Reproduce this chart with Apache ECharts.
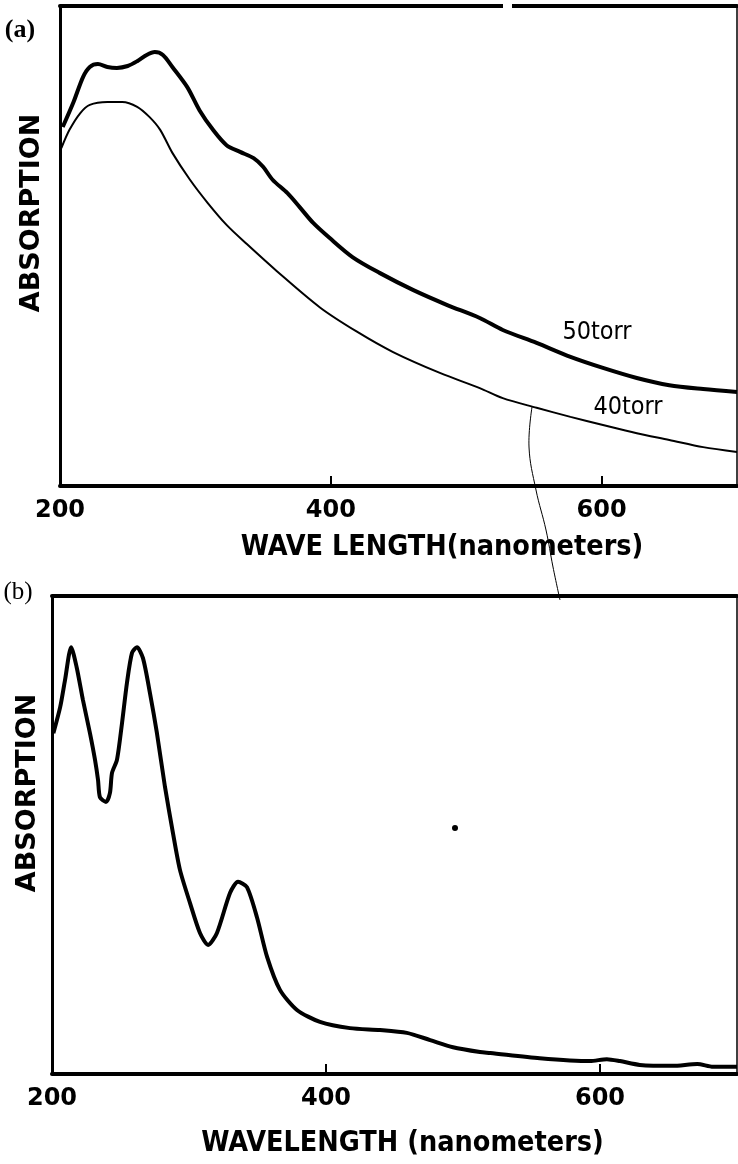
<!DOCTYPE html>
<html>
<head>
<meta charset="utf-8">
<script src="https://cdn.jsdelivr.net/npm/echarts@6/dist/echarts.min.js"></script>
<style>
  html, body { margin: 0; padding: 0; background: #fff; }
  #chart { width: 738px; height: 1164px; }
</style>
</head>
<body>
<div id="chart"></div>
<script>
// panel (a): two pressures, wavelength in nm / relative absorption
const wl50  = [202, 210, 217, 222, 228, 235, 242, 250, 257, 264, 270, 276, 283, 294, 303, 313, 323, 333, 343, 350, 357, 368, 377, 387, 399, 416, 436, 461, 486, 510, 527, 552, 577, 601, 626, 650, 675, 700];
const abs50 = [74.8, 80, 85.2, 87.3, 87.9, 87.3, 87.1, 87.5, 88.5, 89.8, 90.4, 89.8, 87.3, 83.1, 78.3, 74.2, 71.0, 69.6, 68.3, 66.5, 63.8, 61.0, 58.1, 54.8, 51.7, 47.7, 44.4, 40.8, 37.7, 35.0, 32.5, 29.8, 26.9, 24.6, 22.5, 21.0, 20.2, 19.6];
const wl40  = [201, 207, 215, 222, 235, 246, 257, 266, 274, 283, 296, 309, 323, 338, 360, 392, 419, 446, 481, 510, 527, 552, 577, 601, 626, 650, 675, 700];
const abs40 = [70.4, 74.2, 77.7, 79.4, 80, 80, 79, 76.9, 74.2, 69.4, 63.8, 59, 54.4, 50.4, 44.8, 37.2, 32.2, 27.9, 23.5, 20.4, 18.3, 16.3, 14.4, 12.7, 11.0, 9.6, 8.1, 7.1];

// panel (b)
const wlB  = [201, 206, 209.5, 214, 218, 222.6, 227.7, 231.4, 233.6, 235, 239.4, 242.3, 243.8, 247.4, 251.1, 254.7, 258.4, 262, 266.4, 271.5, 276.6, 282.5, 288.3, 293.4, 300.7, 308, 314, 320.4, 330, 335.8, 342.3, 349.6, 357, 366.4, 378.8, 395.6, 417.5, 439.4, 459, 476, 492.7, 512.4, 520, 556, 592.7, 605, 614.6, 629, 653, 671, 682.5, 700];
const absB = [71.3, 76.8, 82.4, 89.3, 85.1, 78.2, 71.3, 65.7, 61.5, 57.9, 56.9, 58.8, 63, 65.7, 73.4, 81.8, 88.1, 89.3, 87, 79.7, 71.3, 60, 50.4, 42.7, 35.8, 29.5, 27, 29.5, 37.9, 40.2, 39.1, 32.8, 24.5, 17.6, 13.4, 10.9, 9.6, 9.2, 8.6, 7.1, 5.6, 4.6, 4.4, 3.3, 2.7, 3.1, 2.7, 1.9, 1.7, 2.1, 1.5, 1.5];

const xTicks = [200, 400, 600];

const pair = (xs, ys) => xs.map((x, i) => [x, ys[i]]);

const labelFont = { color: '#000', fontSize: 24, fontWeight: 'bold', fontFamily: 'DejaVu Sans' };
const nameFont  = { color: '#000', fontSize: 28.5, fontWeight: 'bold', fontFamily: 'DejaVu Sans Condensed' };

function bottomAxis(grid, name, gap, shift) {
    return {
        gridIndex: grid, type: 'value', position: 'bottom', min: 200, max: 700, interval: 200,
        axisLine: { show: true, lineStyle: { color: '#000', width: 4 } },
        axisTick: { show: true, inside: true, length: 10, lineStyle: { color: '#000', width: 2 } },
        axisLabel: Object.assign({ margin: 13, showMaxLabel: false,
            formatter: v => xTicks.includes(v) ? String(v) : '' }, labelFont),
        splitLine: { show: false },
        name: name, nameLocation: 'middle', nameGap: gap,
        nameTextStyle: Object.assign({ padding: [0, 0, 0, shift] }, nameFont)
    };
}
function topAxis(grid) {
    return {
        gridIndex: grid, type: 'value', position: 'top', min: 200, max: 700,
        axisLine: { show: true, lineStyle: { color: '#000', width: 4 } },
        axisTick: { show: false }, axisLabel: { show: false }, splitLine: { show: false }
    };
}
function leftAxis(grid) {
    return {
        gridIndex: grid, type: 'value', min: 0, max: 100,
        axisLine: { show: true, lineStyle: { color: '#000', width: 3 } },
        axisTick: { show: false }, axisLabel: { show: false }, splitLine: { show: false }
    };
}

function vText(text, x, y) {
    return { type: 'text', x: x, y: y, rotation: Math.PI / 2,
        style: { text: text, fill: '#000', font: 'bold 27px "DejaVu Sans"', align: 'center', verticalAlign: 'middle' } };
}
function tText(text, x, y, font) {
    return { type: 'text', x: x, y: y,
        style: { text: text, fill: '#000', font: font, align: 'center', verticalAlign: 'middle' } };
}

const chart = echarts.init(document.getElementById('chart'), null, { renderer: 'canvas' });
chart.setOption({
    animation: false,
    backgroundColor: '#fff',
    grid: [
        { left: 60, top: 6, width: 677, height: 480, show: true, borderColor: '#000', borderWidth: 1.5, outerBoundsMode: 'none' },
        { left: 52, top: 596, width: 685, height: 478, show: true, borderColor: '#000', borderWidth: 1.5, outerBoundsMode: 'none' }
    ],
    xAxis: [
        bottomAxis(0, 'WAVE LENGTH(nanometers)', 47, 87),
        topAxis(0),
        bottomAxis(1, 'WAVELENGTH (nanometers)', 55, 16),
        topAxis(1)
    ],
    yAxis: [leftAxis(0), leftAxis(1)],
    series: [
        { name: '50torr', type: 'line', xAxisIndex: 0, yAxisIndex: 0, data: pair(wl50, abs50),
          smooth: 0.3, showSymbol: false, lineStyle: { color: '#000', width: 4 } },
        { name: '40torr', type: 'line', xAxisIndex: 0, yAxisIndex: 0, data: pair(wl40, abs40),
          smooth: 0.3, showSymbol: false, lineStyle: { color: '#000', width: 2 } },
        { name: 'b', type: 'line', xAxisIndex: 2, yAxisIndex: 1, data: pair(wlB, absB),
          smooth: 0.25, showSymbol: false, lineStyle: { color: '#000', width: 4 } }
    ],
    graphic: [
        // small break in the top frame line of panel (a)
        { type: 'rect', shape: { x: 503, y: 1, width: 9, height: 10 }, style: { fill: '#fff' }, z: 100 },
        vText('ABSORPTION', 32, 213),
        vText('ABSORPTION', 28, 793),
        tText('(a)', 20, 30, 'bold 26px "Liberation Serif"'),
        tText('(b)', 18, 592, '25px "Liberation Serif"'),
        tText('50torr', 597, 332, '25px "DejaVu Sans Condensed"'),
        tText('40torr', 628, 407, '25px "DejaVu Sans Condensed"'),
        // scanning hair running from panel (a) into panel (b)
        { type: 'polyline', shape: { points: [[532, 407], [529, 447], [536, 490], [546, 530], [553, 567], [560, 600]], smooth: 0.4 },
          style: { stroke: '#000', lineWidth: 1, fill: null } },
        { type: 'circle', shape: { cx: 455, cy: 828, r: 3 }, style: { fill: '#000' } }
    ]
});
</script>
</body>
</html>
